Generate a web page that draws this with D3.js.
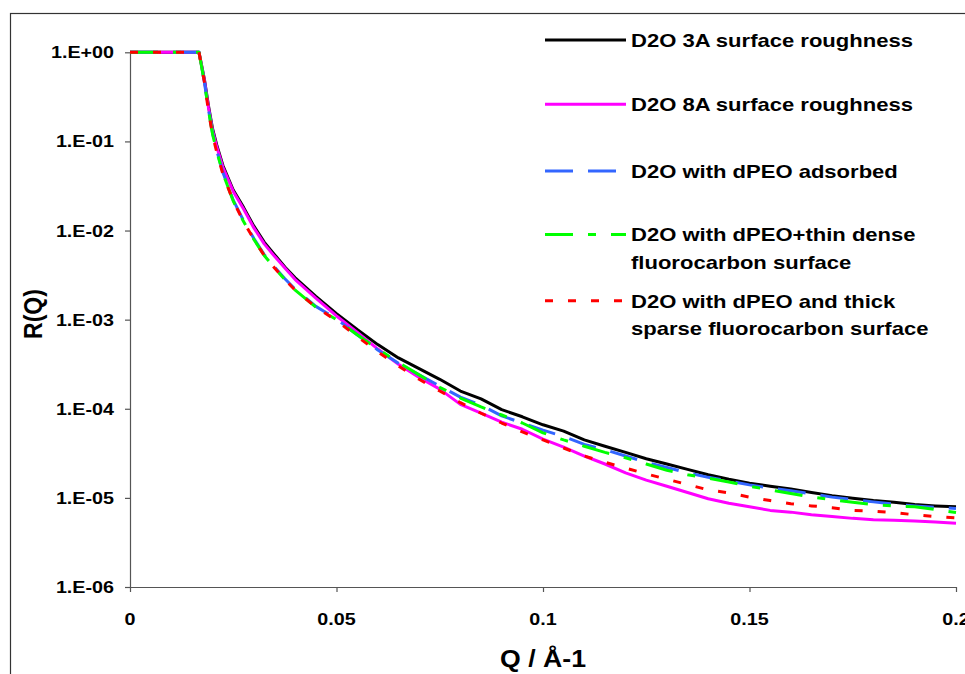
<!DOCTYPE html>
<html>
<head>
<meta charset="utf-8">
<script src="https://cdn.jsdelivr.net/npm/d3@7"></script>
<style>
  html, body { margin: 0; padding: 0; background: #fff; }
  svg { display: block; }
  text { font-family: "Liberation Sans", Arial, sans-serif; font-weight: bold; fill: #000; }
</style>
</head>
<body>
<svg id="chart" width="965" height="674"></svg>
<script>
// ---- data ----
const q = [0, 0.0167, 0.018, 0.019, 0.02, 0.021, 0.0225, 0.025, 0.0275, 0.03, 0.0325, 0.035, 0.0375, 0.04, 0.045,
  0.05, 0.055, 0.06, 0.065, 0.07, 0.075, 0.08, 0.085, 0.09, 0.095, 0.1, 0.105, 0.11, 0.115, 0.12, 0.125, 0.13,
  0.135, 0.14, 0.145, 0.15, 0.155, 0.16, 0.165, 0.17, 0.175, 0.18, 0.185, 0.19, 0.195, 0.2];

const r3A = [1, 1, 5.01e-1, 2.51e-1, 1.38e-1, 9.12e-2, 5.37e-2, 2.85e-2, 1.82e-2, 1.12e-2, 7.41e-3, 5.37e-3, 3.89e-3, 2.95e-3, 1.82e-3,
  1.17e-3, 7.76e-4, 5.25e-4, 3.72e-4, 2.82e-4, 2.14e-4, 1.58e-4, 1.29e-4, 9.77e-5, 8.13e-5, 6.61e-5, 5.62e-5, 4.47e-5, 3.80e-5, 3.24e-5, 2.75e-5, 2.40e-5,
  2.09e-5, 1.82e-5, 1.62e-5, 1.46e-5, 1.35e-5, 1.26e-5, 1.15e-5, 1.06e-5, 9.89e-6, 9.33e-6, 8.91e-6, 8.41e-6, 8.13e-6, 7.94e-6];

const r8A = [1, 1, 4.90e-1, 2.40e-1, 1.32e-1, 8.71e-2, 5.13e-2, 2.75e-2, 1.74e-2, 1.07e-2, 7.08e-3, 5.13e-3, 3.80e-3, 2.82e-3, 1.74e-3,
  1.10e-3, 7.24e-4, 4.68e-4, 3.16e-4, 2.24e-4, 1.66e-4, 1.12e-4, 8.91e-5, 7.08e-5, 5.89e-5, 4.57e-5, 3.72e-5, 2.95e-5, 2.40e-5, 1.91e-5, 1.58e-5, 1.35e-5,
  1.15e-5, 9.77e-6, 8.71e-6, 7.94e-6, 7.24e-6, 6.92e-6, 6.46e-6, 6.17e-6, 5.89e-6, 5.69e-6, 5.62e-6, 5.50e-6, 5.37e-6, 5.19e-6];

const rPEO = [1, 1, 4.68e-1, 2.29e-1, 1.23e-1, 7.94e-2, 4.47e-2, 2.19e-2, 1.29e-2, 8.13e-3, 5.37e-3, 3.89e-3, 2.88e-3, 2.19e-3, 1.41e-3,
  1.02e-3, 6.76e-4, 4.57e-4, 3.24e-4, 2.40e-4, 1.80e-4, 1.35e-4, 1.10e-4, 8.32e-5, 6.92e-5, 5.75e-5, 4.90e-5, 3.98e-5, 3.47e-5, 2.95e-5, 2.51e-5, 2.19e-5,
  1.91e-5, 1.70e-5, 1.55e-5, 1.40e-5, 1.29e-5, 1.20e-5, 1.11e-5, 1.02e-5, 9.55e-6, 9.02e-6, 8.51e-6, 8.13e-6, 7.85e-6, 7.59e-6];

const rThin = [1, 1, 4.68e-1, 2.24e-1, 1.20e-1, 7.76e-2, 4.37e-2, 2.14e-2, 1.26e-2, 7.94e-3, 5.25e-3, 3.80e-3, 2.82e-3, 2.14e-3, 1.38e-3,
  1.00e-3, 6.76e-4, 4.68e-4, 3.31e-4, 2.40e-4, 1.74e-4, 1.32e-4, 1.05e-4, 8.51e-5, 6.92e-5, 5.37e-5, 4.47e-5, 3.80e-5, 3.24e-5, 2.82e-5, 2.40e-5, 2.04e-5,
  1.82e-5, 1.66e-5, 1.51e-5, 1.35e-5, 1.23e-5, 1.12e-5, 1.02e-5, 9.55e-6, 8.91e-6, 8.41e-6, 8.13e-6, 7.94e-6, 7.41e-6, 6.84e-6];

const rThick = [1, 1, 4.68e-1, 2.19e-1, 1.17e-1, 7.59e-2, 4.27e-2, 2.14e-2, 1.26e-2, 7.94e-3, 5.25e-3, 3.80e-3, 2.82e-3, 2.14e-3, 1.38e-3,
  9.77e-4, 6.46e-4, 4.37e-4, 3.02e-4, 2.14e-4, 1.58e-4, 1.17e-4, 8.91e-5, 6.92e-5, 5.50e-5, 4.47e-5, 3.63e-5, 2.95e-5, 2.51e-5, 2.16e-5, 1.86e-5, 1.62e-5,
  1.41e-5, 1.23e-5, 1.14e-5, 1.02e-5, 9.33e-6, 8.61e-6, 8.13e-6, 7.76e-6, 7.24e-6, 7.08e-6, 6.84e-6, 6.46e-6, 6.17e-6, 5.96e-6];

const seriesNames = [
  ["D2O 3A surface roughness"],
  ["D2O 8A surface roughness"],
  ["D2O with dPEO adsorbed"],
  ["D2O with dPEO+thin dense", "fluorocarbon surface"],
  ["D2O with dPEO and thick", "sparse fluorocarbon surface"]
];
const seriesValues = [r3A, r8A, rPEO, rThin, rThick];
const seriesColors = ["#000000", "#ff00ff", "#3366ff", "#00ff00", "#ff0000"];
const seriesDash = [null, null, "28,15", "28,15,8,15", "8,15"];

const yTickValues = [1, 1e-1, 1e-2, 1e-3, 1e-4, 1e-5, 1e-6];
const yTickLabels = ["1.E+00", "1.E-01", "1.E-02", "1.E-03", "1.E-04", "1.E-05", "1.E-06"];
const xTickValues = [0, 0.05, 0.1, 0.15, 0.2];
const xTickLabels = ["0", "0.05", "0.1", "0.15", "0.2"];

const xTitle = "Q / Å-1";
const yTitle = "R(Q)";

// ---- layout ----
const SX = 1.16; // horizontal stretch of the text in the reference
const plotL = 130, plotR = 956, plotT = 52.3, plotB = 587;

const svg = d3.select("#chart");

// outer frame
svg.append("rect").attr("x", 10.5).attr("y", 13.5).attr("width", 1000).attr("height", 1000)
  .attr("fill", "none").attr("stroke", "#333").attr("stroke-width", 1.2);

const x = d3.scaleLinear().domain([0, 0.2]).range([plotL, plotR]);
const y = d3.scaleLog().domain([1e-6, 1]).range([plotB, plotT]);

// axes
const yAxis = d3.axisLeft(y).tickValues(yTickValues).tickFormat("").tickSize(5).tickSizeOuter(0);
const xAxis = d3.axisBottom(x).tickValues(xTickValues).tickFormat("").tickSize(5).tickSizeOuter(0);

const gy = svg.append("g").attr("transform", `translate(${plotL},0)`).call(yAxis);
const gx = svg.append("g").attr("transform", `translate(0,${plotB})`).call(xAxis);
[gy, gx].forEach(g => {
  g.select(".domain").attr("stroke", "#555").attr("stroke-width", 1.2);
  g.selectAll(".tick line").attr("stroke", "#555").attr("stroke-width", 1.2);
});

// tick labels
yTickValues.forEach((v, i) => {
  svg.append("text")
    .attr("transform", `translate(114,${y(v) + 6}) scale(${SX},1)`)
    .attr("text-anchor", "end")
    .attr("font-size", 17)
    .text(yTickLabels[i]);
});
xTickValues.forEach((v, i) => {
  svg.append("text")
    .attr("transform", `translate(${x(v)},625) scale(${SX},1)`)
    .attr("text-anchor", "middle")
    .attr("font-size", 17)
    .text(xTickLabels[i]);
});

// axis titles
svg.append("text")
  .attr("transform", `translate(${(plotL + plotR) / 2},666.5) scale(${SX},1)`)
  .attr("text-anchor", "middle").attr("font-size", 23).text(xTitle);
svg.append("text")
  .attr("transform", `translate(41.5,314) scale(${SX},1) rotate(-90)`)
  .attr("text-anchor", "middle").attr("font-size", 23).text(yTitle);

// curves
const line = d3.line().x(d => x(d[0])).y(d => y(d[1]));
seriesValues.forEach((vals, i) => {
  const pts = q.map((qq, j) => [qq, vals[j]]);
  svg.append("path")
    .attr("d", line(pts))
    .attr("fill", "none")
    .attr("stroke", seriesColors[i])
    .attr("stroke-width", 3)
    .attr("stroke-linejoin", "round")
    .attr("stroke-dasharray", seriesDash[i]);
});

// legend
const legendY = [40, 104.3, 171, 234.5, 300.7];
seriesNames.forEach((lines, i) => {
  const ly = legendY[i];
  svg.append("line")
    .attr("x1", 545).attr("x2", 626).attr("y1", ly).attr("y2", ly)
    .attr("stroke", seriesColors[i]).attr("stroke-width", 3)
    .attr("stroke-dasharray", seriesDash[i]);
  lines.forEach((t, k) => {
    svg.append("text")
      .attr("transform", `translate(631,${ly + 6.8 + k * 27.5}) scale(${SX},1)`)
      .attr("font-size", 19)
      .text(t);
  });
});
</script>
</body>
</html>
